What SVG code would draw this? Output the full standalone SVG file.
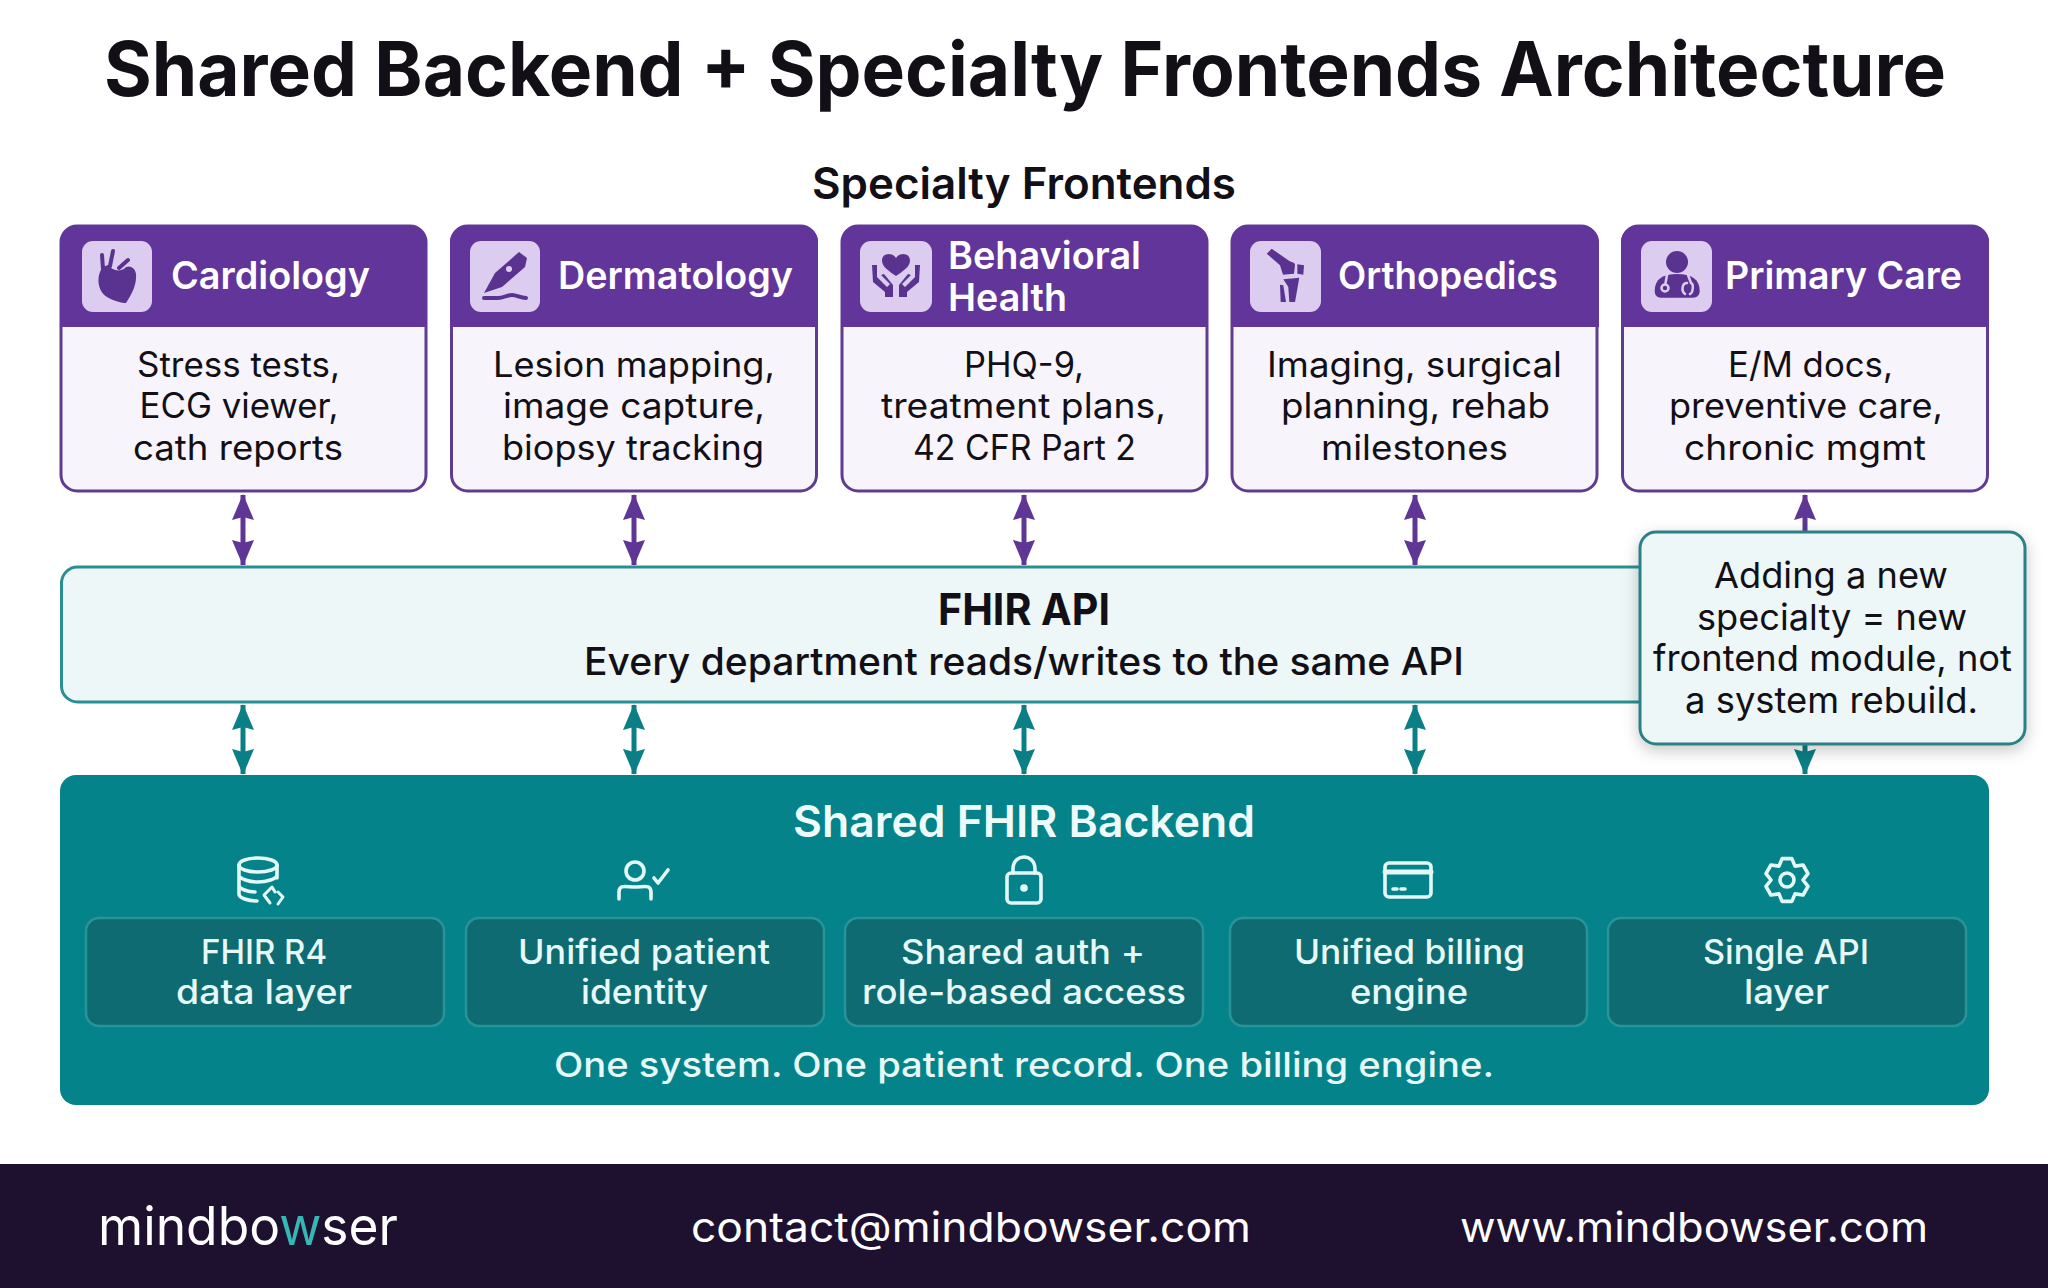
<svg xmlns="http://www.w3.org/2000/svg" width="2048" height="1288" viewBox="0 0 2048 1288">
<style>
text{font-family:"Inter","Noto Sans","Liberation Sans",sans-serif;fill:#121016}
.title{font-size:75px;font-weight:700}
.sect{font-size:44px;font-weight:600}
.head{font-size:38px;font-weight:600;fill:#fff}
.body{font-size:35px;font-weight:400}
.api{font-size:44px;font-weight:700}
.sub{font-size:38px;font-weight:500}
.note{font-size:36px;font-weight:400}
.bh{font-size:44px;font-weight:600;fill:#eefbfa}
.bt{font-size:34px;font-weight:500;fill:#e6f8f7}
.foot{font-size:41px;font-weight:400;fill:#fff}
.logo{font-size:53px;font-weight:400;fill:#fff}
.chead{fill:#61359a}
.cbody{fill:#f7f4fb;stroke:#5f3c8f;stroke-width:3}
.tile{fill:#dccdf0}
.ic{fill:#5a3390;stroke:none}
.icl{fill:none;stroke:#5a3390;stroke-width:4;stroke-linecap:round;stroke-linejoin:round}
.icw{fill:none;stroke:#dccdf0;stroke-width:2.500;stroke-linecap:round}
.mod{fill:#0e6b71;stroke:#2a9398;stroke-width:2.5}
.wi{fill:none;stroke:#e4f8f7;stroke-width:3.6;stroke-linecap:round;stroke-linejoin:round}
.p{stroke:#5f3595;stroke-width:5;fill:none}
.t{stroke:#0a7f85;stroke-width:5;fill:none}
</style>
<defs>
<marker id="pe" viewBox="0 0 26 22" refX="25" refY="11" markerWidth="26" markerHeight="22" markerUnits="userSpaceOnUse" orient="auto"><path d="M0 0L26 11L0 22L3 11Z" fill="#5f3595"/></marker>
<marker id="ps" viewBox="0 0 26 22" refX="1" refY="11" markerWidth="26" markerHeight="22" markerUnits="userSpaceOnUse" orient="auto"><path d="M26 0L0 11L26 22L23 11Z" fill="#5f3595"/></marker>
<marker id="te" viewBox="0 0 26 22" refX="25" refY="11" markerWidth="26" markerHeight="22" markerUnits="userSpaceOnUse" orient="auto"><path d="M0 0L26 11L0 22L3 11Z" fill="#0a7f85"/></marker>
<marker id="ts" viewBox="0 0 26 22" refX="1" refY="11" markerWidth="26" markerHeight="22" markerUnits="userSpaceOnUse" orient="auto"><path d="M26 0L0 11L26 22L23 11Z" fill="#0a7f85"/></marker>
<filter id="sh" x="-15%" y="-15%" width="130%" height="135%"><feDropShadow dx="0" dy="5" stdDeviation="8" flood-color="#000" flood-opacity=".22"/></filter>
</defs>
<rect width="2048" height="1288" fill="#fff"/>
<text class="title" x="104" y="96" textLength="1842" lengthAdjust="spacingAndGlyphs">Shared Backend + Specialty Frontends Architecture</text>
<text class="sect" x="812" y="199" textLength="424" lengthAdjust="spacingAndGlyphs">Specialty Frontends</text>

<g id="connectors">
<path class="p" d="M243 495V565" marker-start="url(#ps)" marker-end="url(#pe)"/>
<path class="p" d="M634 495V565" marker-start="url(#ps)" marker-end="url(#pe)"/>
<path class="p" d="M1024 495V565" marker-start="url(#ps)" marker-end="url(#pe)"/>
<path class="p" d="M1415 495V565" marker-start="url(#ps)" marker-end="url(#pe)"/>
<path class="p" d="M1805 495V565" marker-start="url(#ps)"/>
<path class="t" d="M243 705V774" marker-start="url(#ts)" marker-end="url(#te)"/>
<path class="t" d="M634 705V774" marker-start="url(#ts)" marker-end="url(#te)"/>
<path class="t" d="M1024 705V774" marker-start="url(#ts)" marker-end="url(#te)"/>
<path class="t" d="M1415 705V774" marker-start="url(#ts)" marker-end="url(#te)"/>
<path class="t" d="M1805 705V774" marker-end="url(#te)"/>
</g>

<g id="cardiology">
<rect class="cbody" x="61" y="226" width="365" height="265" rx="16"/>
<path class="chead" d="M60 327V242a16 16 0 0 1 16-16H411a16 16 0 0 1 16 16V327Z"/>
<rect class="tile" x="82" y="241" width="70" height="71" rx="11"/>
<g transform="translate(82 241)">
<path class="ic" d="M21 26C14 34 15 50 25 56C32 60 40 62 44 62C50 53 55 43 54 33C53 26 46 23 42 28C36 31 30 29 26 24Z"/>
<path class="icl" d="M21 28L20 14M28 25L31 10M37 27L46 19"/>
</g>
<text class="head" x="171" y="289" textLength="199" lengthAdjust="spacingAndGlyphs">Cardiology</text>
<text class="body" x="137" y="377" textLength="203" lengthAdjust="spacingAndGlyphs">Stress tests,</text>
<text class="body" x="139.500" y="418" textLength="199" lengthAdjust="spacingAndGlyphs">ECG viewer,</text>
<text class="body" x="133" y="460" textLength="210" lengthAdjust="spacingAndGlyphs">cath reports</text>
</g>

<g id="dermatology">
<rect class="cbody" x="451.500" y="226" width="365" height="265" rx="16"/>
<path class="chead" d="M450 327V242a16 16 0 0 1 16-16H802a16 16 0 0 1 16 16V327Z"/>
<rect class="tile" x="470" y="241" width="70" height="71" rx="11"/>
<g transform="translate(470 241)">
<path class="ic" d="M49 11L57 17L55 26L32 46L14 52L25 32Z"/>
<circle cx="39" cy="28" r="3" fill="#dccdf0"/>
<path class="icl" d="M14 57H28C34 57 36 54 42 54C47 54 50 57 56 57"/>
</g>
<text class="head" x="558" y="289" textLength="235" lengthAdjust="spacingAndGlyphs">Dermatology</text>
<text class="body" x="493" y="377" textLength="282" lengthAdjust="spacingAndGlyphs">Lesion mapping,</text>
<text class="body" x="503" y="418" textLength="262" lengthAdjust="spacingAndGlyphs">image capture,</text>
<text class="body" x="502" y="460" textLength="262" lengthAdjust="spacingAndGlyphs">biopsy tracking</text>
</g>

<g id="behavioral-health">
<rect class="cbody" x="842" y="226" width="365" height="265" rx="16"/>
<path class="chead" d="M841 327V242a16 16 0 0 1 16-16H1192a16 16 0 0 1 16 16V327Z"/>
<rect class="tile" x="860" y="241" width="72" height="71" rx="11"/>
<g transform="translate(860 241)">
<path class="ic" d="M36 35C29 30 22 26 22 19.500C22 12 32 10.500 36 17C40 10.500 50 12 50 19.500C50 26 43 30 36 35Z"/>
<path class="ic" d="M12 24H17L17 36L27 46L30 43L21 34L24 33L33 44V56H25L25 51L13 41Z"/>
<path class="ic" d="M60 24H55L55 36L45 46L42 43L51 34L48 33L39 44V56H47L47 51L59 41Z"/>
</g>
<text class="head" x="948" y="269" textLength="193" lengthAdjust="spacingAndGlyphs">Behavioral</text>
<text class="head" x="948" y="311" textLength="119" lengthAdjust="spacingAndGlyphs">Health</text>
<text class="body" x="964" y="377" textLength="120" lengthAdjust="spacingAndGlyphs">PHQ-9,</text>
<text class="body" x="881" y="418" textLength="285" lengthAdjust="spacingAndGlyphs">treatment plans,</text>
<text class="body" x="913" y="460" textLength="223" lengthAdjust="spacingAndGlyphs">42 CFR Part 2</text>
</g>

<g id="orthopedics">
<rect class="cbody" x="1232" y="226" width="365" height="265" rx="16"/>
<path class="chead" d="M1231 327V242a16 16 0 0 1 16-16H1583a16 16 0 0 1 16 16V327Z"/>
<rect class="tile" x="1250" y="241" width="71" height="71" rx="11"/>
<g transform="translate(1250 241)">
<path class="ic" d="M16.700 12.700L21.700 7.700L38.300 19.300C41 21.500 45 21 45 24L44 32.700L33 33.700L30 24.300Z"/>
<path class="ic" d="M47.300 23.300L54 24.300L53.300 33.700L47.300 32.700Z"/>
<path class="ic" d="M33.300 38.300L49.300 36.700L45 61H39.300L38.300 46Z"/>
<path class="ic" d="M30 43.700L33.300 44.300L36 61H30.700Z"/>
</g>
<text class="head" x="1338" y="289" textLength="220" lengthAdjust="spacingAndGlyphs">Orthopedics</text>
<text class="body" x="1267" y="377" textLength="295" lengthAdjust="spacingAndGlyphs">Imaging, surgical</text>
<text class="body" x="1281" y="418" textLength="269" lengthAdjust="spacingAndGlyphs">planning, rehab</text>
<text class="body" x="1321" y="460" textLength="187" lengthAdjust="spacingAndGlyphs">milestones</text>
</g>

<g id="primary-care">
<rect class="cbody" x="1622.500" y="226" width="365" height="265" rx="16"/>
<path class="chead" d="M1621 327V242a16 16 0 0 1 16-16H1973a16 16 0 0 1 16 16V327Z"/>
<rect class="tile" x="1641" y="241" width="71" height="71" rx="11"/>
<g transform="translate(1641 241)">
<circle class="ic" cx="36" cy="21" r="11"/>
<path class="ic" d="M13.700 50C13.700 38 22 33 36 33C50 33 58.700 38 58.700 50C58.700 54 56 56.700 52 56.700H20C16 56.700 13.700 54 13.700 50Z"/>
<path class="icw" d="M26 34L24.500 42M47 34L50 42C53 43 52 52 49 53M44 53C40 50 41 42 46 42"/>
<circle cx="24" cy="47" r="3.500" fill="none" stroke="#dccdf0" stroke-width="2.500"/>
</g>
<text class="head" x="1725" y="289" textLength="237" lengthAdjust="spacingAndGlyphs">Primary Care</text>
<text class="body" x="1728" y="377" textLength="165" lengthAdjust="spacingAndGlyphs">E/M docs,</text>
<text class="body" x="1669" y="418" textLength="274" lengthAdjust="spacingAndGlyphs">preventive care,</text>
<text class="body" x="1684" y="460" textLength="242" lengthAdjust="spacingAndGlyphs">chronic mgmt</text>
</g>

<g id="fhir-api">
<rect x="61.500" y="567" width="1700" height="135" rx="16" fill="#edf7f7" stroke="#2a8f94" stroke-width="3"/>
<text class="api" x="938" y="625" textLength="172" lengthAdjust="spacingAndGlyphs">FHIR API</text>
<text class="sub" x="584" y="675" textLength="880" lengthAdjust="spacingAndGlyphs">Every department reads/writes to the same API</text>
</g>

<g id="backend">
<rect x="60" y="775" width="1929" height="330" rx="16" fill="#04838a"/>
<text class="bh" x="793" y="837" textLength="462" lengthAdjust="spacingAndGlyphs">Shared FHIR Backend</text>
<g id="fhir-r4">
<rect class="mod" x="86" y="918" width="358" height="108" rx="13"/>
<g class="wi" transform="translate(258 880)">
<ellipse cx="0" cy="-15" rx="19" ry="7"/>
<path d="M-19 -15V14C-19 18 -10 21 -1 21M19 -15V-2M-19 -5C-19 -1 -8 2 0 2C8 2 19 -1 19 -5M-19 5C-19 9 -10 12 -3 12"/>
<path d="M12 23L6 15L14 7L17 12M20 24L25 17L20 12" stroke-width="3"/>
</g>
<text class="bt" x="201" y="964" textLength="126" lengthAdjust="spacingAndGlyphs">FHIR R4</text>
<text class="bt" x="176" y="1004" textLength="176" lengthAdjust="spacingAndGlyphs">data layer</text>
</g>
<g id="patient-identity">
<rect class="mod" x="466" y="918" width="358" height="108" rx="13"/>
<g class="wi" transform="translate(635 880)">
<circle cx="0" cy="-9" r="9"/>
<path d="M-16 19V12C-16 4 -9 7 0 7C9 7 16 4 16 12V19"/>
<path d="M19 -2L23 3L33 -10"/>
</g>
<text class="bt" x="518" y="964" textLength="252" lengthAdjust="spacingAndGlyphs">Unified patient</text>
<text class="bt" x="581" y="1004" textLength="127" lengthAdjust="spacingAndGlyphs">identity</text>
</g>
<g id="shared-auth">
<rect class="mod" x="845" y="918" width="358" height="108" rx="13"/>
<g class="wi" transform="translate(1024 880)">
<rect x="-17" y="-7" width="34" height="30" rx="4"/>
<path d="M-11 -7V-11C-11 -27 11 -27 11 -11V-7"/>
<circle cx="0" cy="8" r="2" fill="#e4f8f7"/>
</g>
<text class="bt" x="901" y="964" textLength="244" lengthAdjust="spacingAndGlyphs">Shared auth +</text>
<text class="bt" x="862" y="1004" textLength="324" lengthAdjust="spacingAndGlyphs">role-based access</text>
</g>
<g id="billing">
<rect class="mod" x="1230" y="918" width="357" height="108" rx="13"/>
<g class="wi" transform="translate(1408 880)">
<rect x="-23" y="-17" width="46" height="34" rx="4"/>
<path d="M-23 -8H23" stroke-width="5"/>
<path d="M-15 9H-11M-7 9H-3"/>
</g>
<text class="bt" x="1294" y="964" textLength="231" lengthAdjust="spacingAndGlyphs">Unified billing</text>
<text class="bt" x="1350" y="1004" textLength="118" lengthAdjust="spacingAndGlyphs">engine</text>
</g>
<g id="single-api">
<rect class="mod" x="1608" y="918" width="358" height="108" rx="13"/>
<g class="wi" transform="translate(1787 880)">
<path d="M-4.900 -21.400L4.900 -21.400L8 -13.900L16.100 -15L21 -6.400L16 0L21 6.400L16.100 15L8 13.900L4.900 21.400L-4.900 21.400L-8 13.900L-16.100 15L-21 6.400L-16 0L-21 -6.400L-16.100 -15L-8 -13.900Z"/>
<circle r="7"/>
</g>
<text class="bt" x="1703" y="964" textLength="166" lengthAdjust="spacingAndGlyphs">Single API</text>
<text class="bt" x="1744" y="1004" textLength="85" lengthAdjust="spacingAndGlyphs">layer</text>
</g>
<text class="bt" x="554" y="1077" textLength="940" lengthAdjust="spacingAndGlyphs">One system. One patient record. One billing engine.</text>
</g>

<g id="callout">
<rect x="1640" y="532" width="385" height="212" rx="16" fill="#edf7f7" stroke="#2a8086" stroke-width="3" filter="url(#sh)"/>
<text class="note" x="1714" y="588" textLength="234" lengthAdjust="spacingAndGlyphs">Adding a new</text>
<text class="note" x="1697" y="630" textLength="270" lengthAdjust="spacingAndGlyphs">specialty = new</text>
<text class="note" x="1653" y="671" textLength="359" lengthAdjust="spacingAndGlyphs">frontend module, not</text>
<text class="note" x="1685" y="713" textLength="293" lengthAdjust="spacingAndGlyphs">a system rebuild.</text>
</g>

<g id="footer">
<rect y="1164" width="2048" height="124" fill="#1e102f"/>
<text class="logo" x="98" y="1245" textLength="300" lengthAdjust="spacingAndGlyphs">mindbo<tspan fill="#35b8b4">w</tspan>ser</text>
<text class="foot" x="691" y="1242" textLength="560" lengthAdjust="spacingAndGlyphs">contact@mindbowser.com</text>
<text class="foot" x="1460" y="1242" textLength="468" lengthAdjust="spacingAndGlyphs">www.mindbowser.com</text>
</g>
</svg>
